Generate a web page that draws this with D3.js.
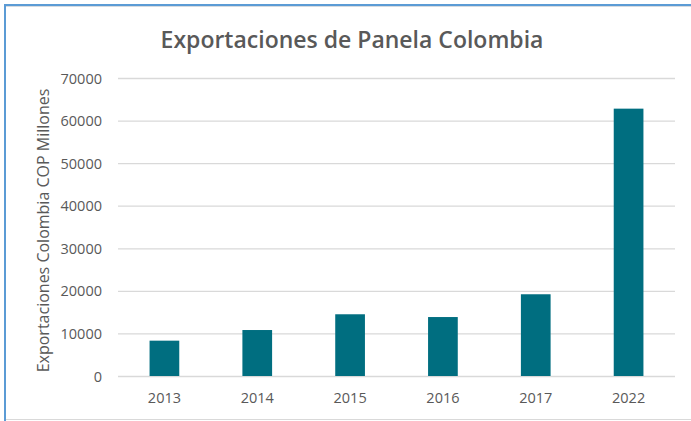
<!DOCTYPE html>
<html>
<head>
<meta charset="utf-8">
<script src="https://cdn.jsdelivr.net/npm/d3@7"></script>
<style>
  html, body { margin: 0; padding: 0; background: #fff; }
  svg { display: block; }
  text { font-family: "Open Sans", "Liberation Sans", sans-serif; }
</style>
</head>
<body>
<svg id="chart" width="691" height="421"></svg>
<script>
const categories = ["2013", "2014", "2015", "2016", "2017", "2022"];
const values = [8300, 10800, 14500, 13850, 19200, 62800];
const yTicks = [0, 10000, 20000, 30000, 40000, 50000, 60000, 70000];
const title = "Exportaciones de Panela Colombia";
const yTitle = "Exportaciones Colombia COP Millones";

const W = 691, H = 421;
const margin = { left: 118, right: 16, top: 78, bottom: 45 };
const svg = d3.select("#chart");

// frame
svg.append("rect").attr("x", 0).attr("y", 0).attr("width", W).attr("height", H).attr("fill", "#fff");
svg.append("line").attr("x1", 4).attr("x2", W).attr("y1", 6.5).attr("y2", 6.5).attr("stroke", "#d6dbe0").attr("stroke-width", 1);
svg.append("line").attr("x1", 4).attr("x2", W).attr("y1", 5).attr("y2", 5).attr("stroke", "#5b9bd5").attr("stroke-width", 2);
svg.append("line").attr("x1", 5).attr("x2", 5).attr("y1", 4).attr("y2", H).attr("stroke", "#5b9bd5").attr("stroke-width", 2);
svg.append("line").attr("x1", 6).attr("x2", W).attr("y1", 419.5).attr("y2", 419.5).attr("stroke", "#d9d9d9").attr("stroke-width", 1);

const x = d3.scaleBand().domain(categories).range([margin.left, W - margin.right]).paddingInner(0.68).paddingOuter(0.34);
const y = d3.scaleLinear().domain([0, 70000]).range([H - margin.bottom, margin.top]);

// gridlines
const grid = svg.append("g").attr("transform", `translate(${margin.left},0)`)
  .call(d3.axisLeft(y).tickValues(yTicks).tickSize(-(W - margin.right - margin.left)).tickFormat(""));
grid.select(".domain").remove();
grid.selectAll(".tick line").attr("stroke", "#d9d9d9").attr("stroke-width", 1.3);

// y labels
const yAxis = svg.append("g").attr("transform", `translate(${margin.left - 16},0)`)
  .call(d3.axisLeft(y).tickValues(yTicks).tickSize(0).tickPadding(0).tickFormat(d3.format("d")));
yAxis.select(".domain").remove();
yAxis.selectAll("text").attr("fill", "#595959").style("font-size", "14.5px").attr("dy", "0.35em");

// bars
svg.append("g").selectAll("rect").data(categories).join("rect")
  .attr("x", d => x(d))
  .attr("width", x.bandwidth())
  .attr("y", (d, i) => y(values[i]))
  .attr("height", (d, i) => y(0) - y(values[i]))
  .attr("fill", "#006e80");

// x labels
const xAxis = svg.append("g").attr("transform", `translate(0,${H - margin.bottom})`)
  .call(d3.axisBottom(x).tickSize(0).tickPadding(17));
xAxis.select(".domain").remove();
xAxis.selectAll("text").attr("fill", "#595959").style("font-size", "14.5px");

// title
svg.append("text").attr("x", 352).attr("y", 48).attr("text-anchor", "middle")
  .attr("fill", "#595959").style("font-size", "23px").style("font-weight", "600")
  .text(title);

// y title
svg.append("text").attr("transform", `translate(49,${(83 + 378) / 2}) rotate(-90)`)
  .attr("text-anchor", "middle").attr("fill", "#595959").style("font-size", "16px")
  .text(yTitle);
</script>
</body>
</html>
